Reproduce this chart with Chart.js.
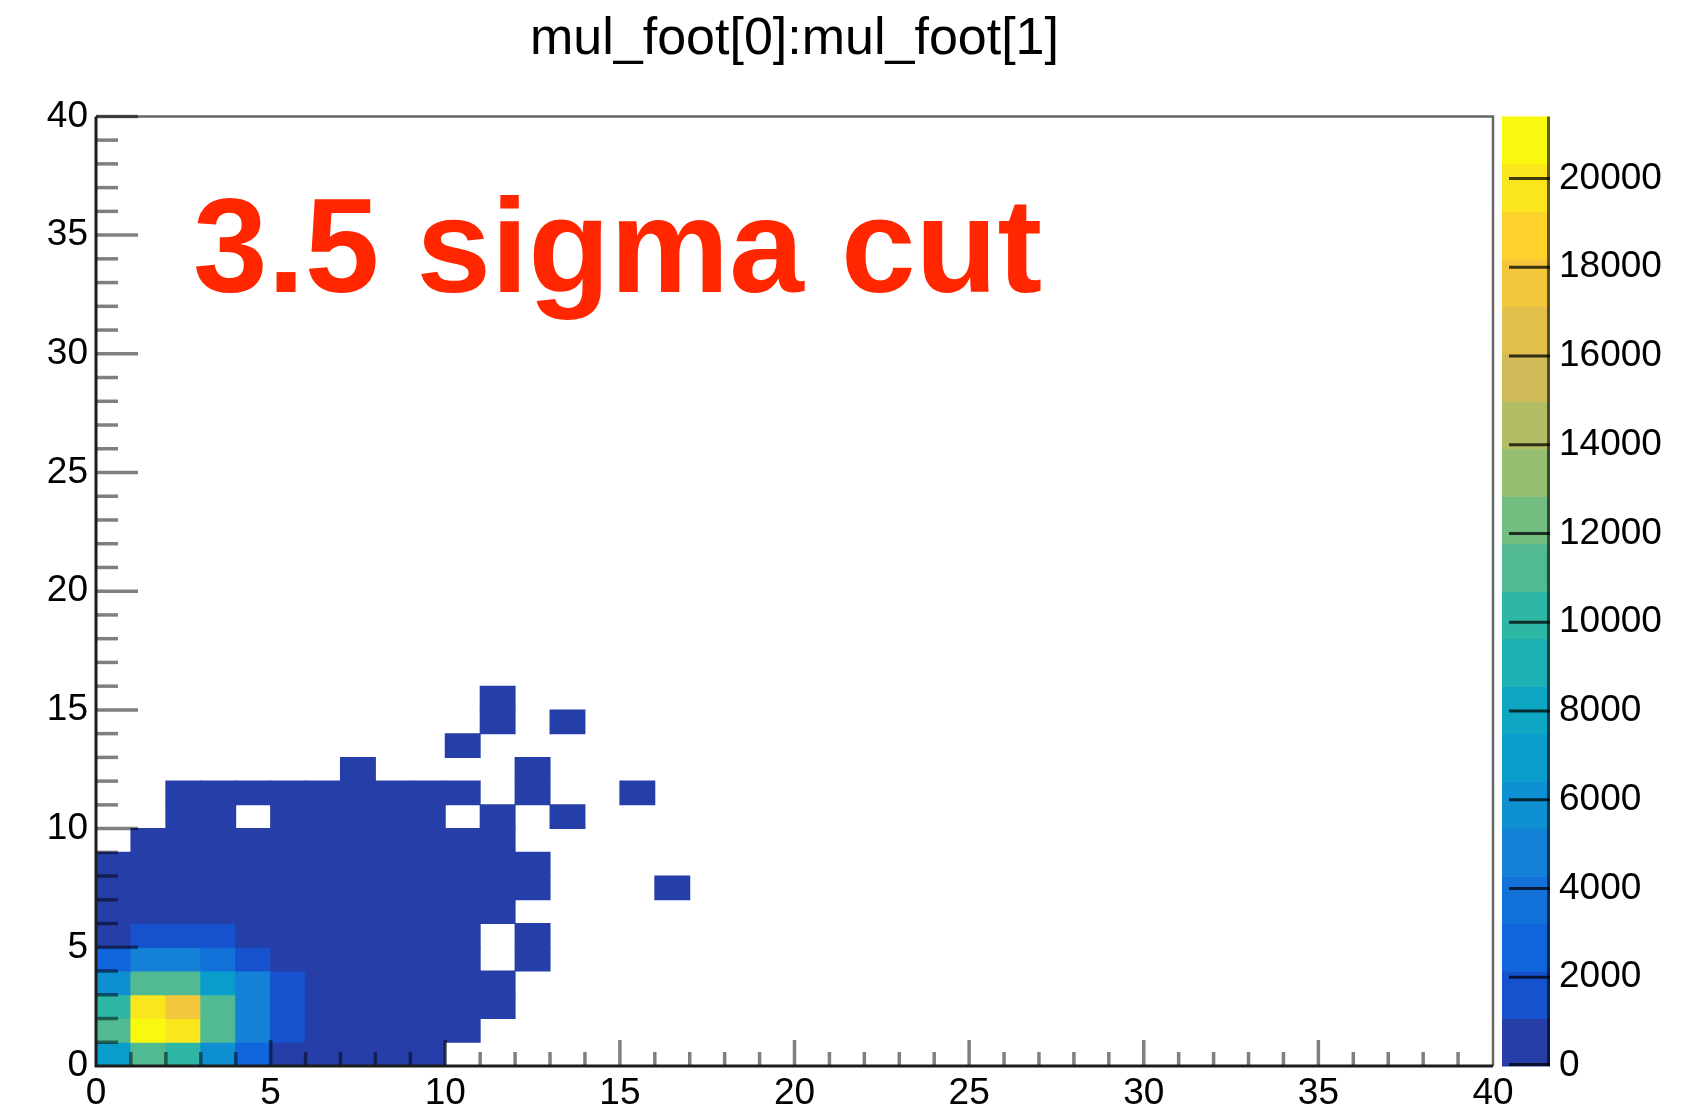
<!DOCTYPE html>
<html>
<head>
<meta charset="utf-8">
<title>mul_foot[0]:mul_foot[1]</title>
<script src="https://cdn.jsdelivr.net/npm/chart.js@4.4.1/dist/chart.umd.min.js"></script>
<style>
  html, body { margin: 0; padding: 0; background: #fff; overflow: hidden; }
  #wrap { width: 1686px; height: 1115px; }
  canvas { display: block; }
</style>
</head>
<body>
<div id="wrap"><canvas id="hist2d"></canvas></div>
<script>
// lower bin edges, unit-width bins
const xBins = [0, 1, 2, 3, 4, 5, 6, 7, 8, 9, 10, 11, 12, 13, 14, 15, 16];
const yBins = [0, 1, 2, 3, 4, 5, 6, 7, 8, 9, 10, 11, 12, 13, 14, 15];

// entries per bin, one row per y bin (row 0 is y = 0..1)
const counts = [
  [7000, 11200, 10100, 6000, 2600, 950, 580, 310, 150, 60, 0, 0, 0, 0, 0, 0, 0],
  [11000, 21400, 19600, 11300, 4800, 1700, 900, 520, 260, 110, 35, 0, 0, 0, 0, 0, 0],
  [10200, 20100, 17600, 11500, 5000, 1850, 980, 600, 320, 150, 60, 18, 0, 0, 0, 0, 0],
  [5900, 11400, 11000, 7200, 4600, 1600, 840, 500, 260, 120, 45, 12, 0, 0, 0, 0, 0],
  [2700, 4900, 4700, 3900, 2000, 960, 620, 330, 170, 70, 22, 0, 4, 0, 0, 0, 0],
  [900, 1500, 1600, 1300, 1000, 700, 420, 230, 110, 40, 14, 0, 3, 0, 0, 0, 0],
  [380, 650, 700, 640, 520, 380, 240, 130, 60, 25, 9, 2, 0, 0, 0, 0, 0],
  [120, 230, 260, 250, 210, 160, 100, 55, 26, 11, 5, 2, 1, 0, 0, 0, 1],
  [30, 70, 85, 80, 70, 52, 34, 20, 9, 5, 2, 1, 1, 0, 0, 0, 0],
  [0, 15, 22, 21, 18, 14, 9, 5, 3, 2, 1, 1, 0, 0, 0, 0, 0],
  [0, 0, 4, 5, 0, 4, 3, 2, 1, 1, 0, 1, 0, 1, 0, 0, 0],
  [0, 0, 1, 1, 1, 1, 1, 1, 1, 1, 1, 0, 1, 0, 0, 1, 0],
  [0, 0, 0, 0, 0, 0, 0, 1, 0, 0, 0, 0, 1, 0, 0, 0, 0],
  [0, 0, 0, 0, 0, 0, 0, 0, 0, 0, 1, 0, 0, 0, 0, 0, 0],
  [0, 0, 0, 0, 0, 0, 0, 0, 0, 0, 0, 1, 0, 1, 0, 0, 0],
  [0, 0, 0, 0, 0, 0, 0, 0, 0, 0, 0, 1, 0, 0, 0, 0, 0]
];

const xTicks = [0, 5, 10, 15, 20, 25, 30, 35, 40];
const yTicks = [0, 5, 10, 15, 20, 25, 30, 35, 40];
const zTicks = [0, 2000, 4000, 6000, 8000, 10000, 12000, 14000, 16000, 18000, 20000];

const N_LEVELS = 20;
const zMax = Math.max(...counts.flat());

// kBird gradient
const birdStops = [0.0, 0.125, 0.25, 0.375, 0.5, 0.625, 0.75, 0.875, 1.0];
const birdRed   = [0.2082, 0.0592, 0.0780, 0.0232, 0.1802, 0.5301, 0.8186, 0.9956, 0.9764];
const birdGreen = [0.1664, 0.3599, 0.5041, 0.6419, 0.7178, 0.7492, 0.7328, 0.7862, 0.9832];
const birdBlue  = [0.5293, 0.8684, 0.8385, 0.7914, 0.6425, 0.4662, 0.3499, 0.1968, 0.0539];
const NCOLORS = 255;

const birdTable = [];
for (let g = 1; g < birdStops.length; g++) {
  const n = Math.floor(NCOLORS * birdStops[g]) - Math.floor(NCOLORS * birdStops[g - 1]);
  for (let c = 0; c < n; c++) {
    const t = c / n;
    birdTable.push([birdRed, birdGreen, birdBlue].map(ch => Math.round(255 * (ch[g - 1] + t * (ch[g] - ch[g - 1])))));
  }
}

function levelOf(v) {
  return Math.min(N_LEVELS - 1, Math.floor(0.01 + v * N_LEVELS / zMax));
}

function levelColor(k) {
  const idx = Math.min(NCOLORS - 1, Math.floor((k + 0.99) * NCOLORS / N_LEVELS));
  const [r, g, b] = birdTable[idx];
  return 'rgb(' + r + ',' + g + ',' + b + ')';
}

// every filled bin becomes a floating bar spanning its y bin
const cells = [];
counts.forEach((row, j) => {
  row.forEach((v, i) => {
    if (v > 0) cells.push({x: xBins[i] + 0.5, y: [yBins[j], yBins[j] + 1], v: v});
  });
});

const FONT = "'Liberation Sans', Arial, Helvetica, sans-serif";
Chart.defaults.font.family = FONT;
Chart.defaults.color = '#000';

// ROOT style frame: inner ticks, palette axis and the cut label
const rootFrame = {
  id: 'rootFrame',
  afterDatasetsDraw(chart) {
    const {ctx, chartArea: a, scales: {x, y, z}} = chart;
    ctx.save();

    // palette bands
    const bx0 = a.right + 9, bx1 = a.right + 57;
    for (let k = 0; k < N_LEVELS; k++) {
      const y0 = z.getPixelForValue(k * zMax / N_LEVELS);
      const y1 = z.getPixelForValue((k + 1) * zMax / N_LEVELS);
      ctx.fillStyle = levelColor(k);
      ctx.fillRect(bx0, y1, bx1 - bx0, y0 - y1 + 0.5);
    }
    ctx.strokeStyle = 'rgba(0,0,0,0.6)';
    ctx.lineWidth = 3;
    ctx.beginPath();
    ctx.moveTo(bx1 - 1.5, z.top);
    ctx.lineTo(bx1 - 1.5, z.bottom);
    ctx.stroke();
    ctx.strokeStyle = 'rgba(0,0,0,0.75)';
    zTicks.forEach(v => {
      const py = Math.min(z.getPixelForValue(v), z.bottom - 1.5);
      ctx.beginPath();
      ctx.moveTo(bx1 - 41, py);
      ctx.lineTo(bx1, py);
      ctx.stroke();
    });

    // ticks inside the frame, minor every unit
    ctx.strokeStyle = 'rgba(0,0,0,0.5)';
    ctx.lineWidth = 3.5;
    for (let v = x.min + 1; v < x.max; v++) {
      const len = xTicks.includes(v) ? 26 : 14;
      const px = x.getPixelForValue(v);
      ctx.beginPath();
      ctx.moveTo(px, a.bottom);
      ctx.lineTo(px, a.bottom - len);
      ctx.stroke();
    }
    for (let v = y.min + 1; v <= y.max; v++) {
      const len = yTicks.includes(v) ? 42 : 22;
      const py = y.getPixelForValue(v);
      ctx.beginPath();
      ctx.moveTo(a.left, py);
      ctx.lineTo(a.left + len, py);
      ctx.stroke();
    }

    // frame
    ctx.strokeStyle = 'rgba(0,0,0,0.6)';
    ctx.lineWidth = 2.5;
    ctx.beginPath();
    ctx.moveTo(a.left, a.top);
    ctx.lineTo(a.right, a.top);
    ctx.lineTo(a.right, a.bottom);
    ctx.stroke();
    ctx.strokeStyle = '#1c1c1c';
    ctx.lineWidth = 3;
    ctx.beginPath();
    ctx.moveTo(a.left, a.top);
    ctx.lineTo(a.left, a.bottom);
    ctx.lineTo(a.right, a.bottom);
    ctx.stroke();

    ctx.font = 'bold 134px ' + FONT;
    ctx.fillStyle = '#ff2600';
    ctx.textBaseline = 'alphabetic';
    ctx.textAlign = 'left';
    ctx.fillText('3.5 sigma cut', a.left + 97, a.top + 176);
    ctx.restore();
  }
};

const tickFont = {size: 37};

new Chart(document.getElementById('hist2d'), {
  type: 'bar',
  data: {
    datasets: [{
      data: cells,
      xAxisID: 'x',
      yAxisID: 'y',
      backgroundColor: c => c.raw ? levelColor(levelOf(c.raw.v)) : '#000',
      borderWidth: 0,
      inflateAmount: 0.5,
      barPercentage: 1,
      categoryPercentage: 1,
      grouped: false
    }]
  },
  options: {
    responsive: true,
    maintainAspectRatio: false,
    animation: false,
    layout: {
      padding: {top: 0, right: 0, bottom: 0, left: 0}
    },
    plugins: {
      legend: {display: false},
      tooltip: {enabled: false},
      title: {
        display: true,
        fullSize: false,
        text: 'mul_foot[0]:mul_foot[1]',
        color: '#000',
        font: {size: 52, weight: 'normal', lineHeight: 1.2},
        padding: {top: 8, bottom: 46}
      }
    },
    scales: {
      x: {
        type: 'linear',
        min: 0,
        max: 40,
        offset: false,
        grid: {display: false, offset: false, drawTicks: false},
        border: {display: false},
        ticks: {font: tickFont, padding: 6, autoSkip: false, maxRotation: 0, callback: v => String(v)},
        afterBuildTicks: s => { s.ticks = xTicks.map(value => ({value})); },
        afterFit: s => { s.height = 49; }
      },
      y: {
        type: 'linear',
        min: 0,
        max: 40,
        grid: {display: false, drawTicks: false},
        border: {display: false},
        ticks: {font: tickFont, padding: 8, autoSkip: false, callback: v => String(v)},
        afterBuildTicks: s => { s.ticks = yTicks.map(value => ({value})); },
        afterFit: s => { s.width = 96; }
      },
      z: {
        type: 'linear',
        position: 'right',
        min: 0,
        max: zMax,
        grid: {display: false, drawTicks: true, tickLength: 58},
        border: {display: false},
        ticks: {font: tickFont, padding: 8, autoSkip: false, callback: v => String(v)},
        afterBuildTicks: s => { s.ticks = zTicks.map(value => ({value})); },
        afterFit: s => { s.width = 193; }
      }
    }
  },
  plugins: [rootFrame]
});
</script>
</body>
</html>
